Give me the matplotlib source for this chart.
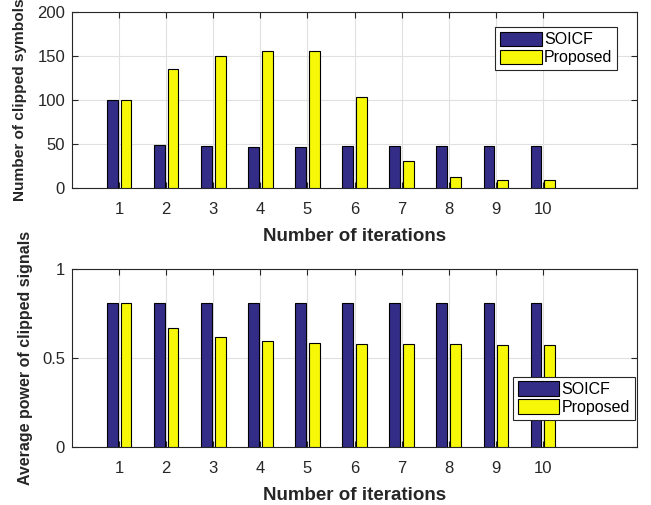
import numpy as np
import matplotlib.pyplot as plt

plt.rcParams["font.family"] = ["Liberation Sans", "DejaVu Sans"]

# ---------------- DATA ----------------
iterations = [1, 2, 3, 4, 5, 6, 7, 8, 9, 10]
clipped_soicf = [100, 49, 48, 47, 47, 48, 48, 48, 48, 48]
clipped_proposed = [100, 135, 150, 156, 156, 103, 31, 12, 9, 9]
power_soicf = [0.81, 0.81, 0.81, 0.81, 0.81, 0.81, 0.81, 0.81, 0.81, 0.81]
power_proposed = [0.81, 0.668, 0.618, 0.597, 0.584, 0.579, 0.579, 0.579, 0.575, 0.573]
series_names = ["SOICF", "Proposed"]

# ---------------- STYLE ----------------
blue = "#332d87"
yellow = "#f7f708"
dark = "#262626"
bar_w = 0.23
shift = 0.145

fig = plt.figure(figsize=(6.51, 5.05), dpi=100)
ax1 = fig.add_axes([0.1106, 0.628, 0.868, 0.348])
ax2 = fig.add_axes([0.1106, 0.115, 0.868, 0.352])


def draw_panel(ax, a, b, ylim, yticks, yticklabels, ylabel, ylabel_size):
    x = np.array(iterations)
    ax.bar(x - shift, a, width=bar_w, color=blue, edgecolor="black",
           linewidth=0.8, label=series_names[0], zorder=3)
    ax.bar(x + shift, b, width=bar_w, color=yellow, edgecolor="black",
           linewidth=0.8, label=series_names[1], zorder=3)
    ax.set_xlim(0, 12)
    ax.set_ylim(*ylim)
    ax.set_xticks(iterations)
    ax.set_yticks(yticks)
    ax.set_yticklabels(yticklabels)
    ax.grid(True, color="#e0e0e0", linewidth=0.8, zorder=0)
    ax.set_axisbelow(True)
    ax.tick_params(direction="in", top=True, right=True, length=4,
                   labelsize=12, colors=dark)
    ax.tick_params(axis="x", pad=10)
    ax.tick_params(axis="y", pad=5)
    for sp in ax.spines.values():
        sp.set_color(dark)
        sp.set_linewidth(0.8)
    ax.set_xlabel("Number of iterations", fontsize=13.5, fontweight="bold",
                  color=dark, labelpad=8)
    ax.set_ylabel(ylabel, fontsize=ylabel_size, fontweight="bold", color=dark)


draw_panel(ax1, clipped_soicf, clipped_proposed, (0, 200),
           [0, 50, 100, 150, 200], ["0", "50", "100", "150", "200"],
           "Number of clipped symbols", 11.1)
draw_panel(ax2, power_soicf, power_proposed, (0, 1),
           [0, 0.5, 1], ["0", "0.5", "1"],
           "Average power of clipped signals", 11.5)

ax1.yaxis.set_label_coords(-0.08, 0.5)
ax2.yaxis.set_label_coords(-0.069, 0.5)

leg_opts = dict(fontsize=11.5, fancybox=False, framealpha=1, edgecolor=dark,
                handlelength=2.6, handleheight=1.0, handletextpad=0.15,
                borderpad=0.3, labelspacing=0.15, borderaxespad=0)
leg1 = ax1.legend(loc="upper right", bbox_to_anchor=(0.965, 0.915), **leg_opts)
leg2 = ax2.legend(loc="lower right", bbox_to_anchor=(0.996, 0.152), **leg_opts)
for leg in (leg1, leg2):
    leg.get_frame().set_linewidth(0.8)

fig.savefig("out.png", dpi=100)
